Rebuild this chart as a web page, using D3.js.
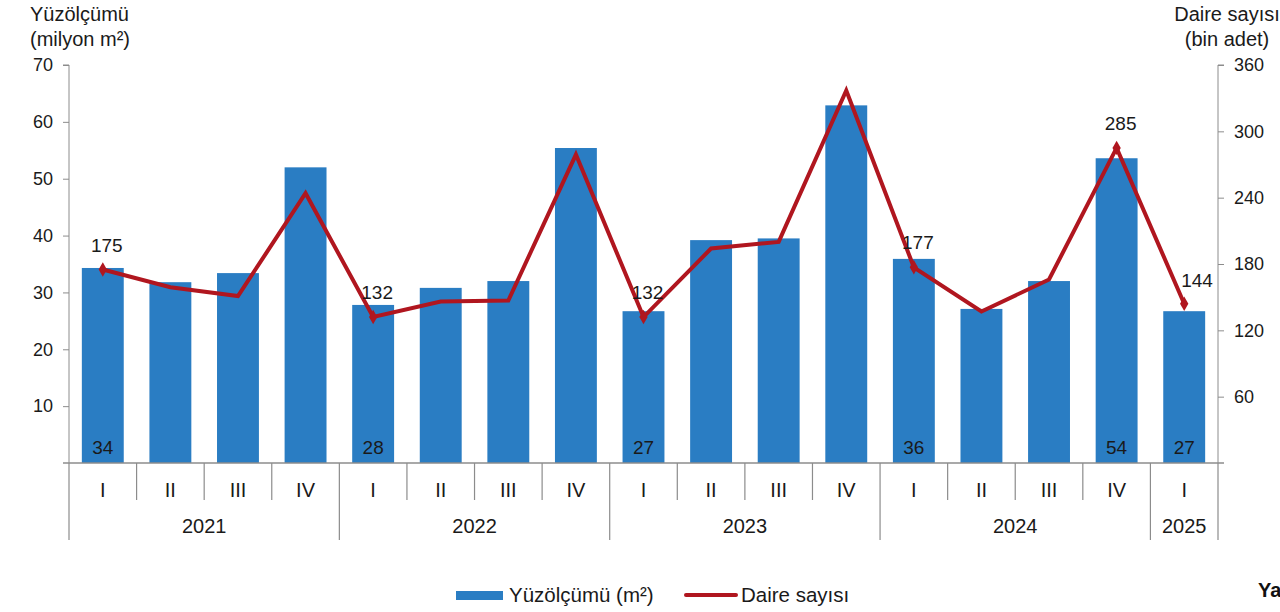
<!DOCTYPE html>
<html><head><meta charset="utf-8">
<script src="https://cdn.jsdelivr.net/npm/d3@7"></script>
<style>body{margin:0;background:#fff}svg{display:block;font-family:"Liberation Sans",Arial,sans-serif}</style>
</head><body><svg id="c" width="1280" height="612"></svg>
<script>
const quarters = ["I","II","III","IV","I","II","III","IV","I","II","III","IV","I","II","III","IV","I"];
const years = ["2021","2021","2021","2021","2022","2022","2022","2022","2023","2023","2023","2023","2024","2024","2024","2024","2025"];
const areaValues = [34.3,31.8,33.4,52.0,27.8,30.8,32.0,55.4,26.7,39.2,39.5,62.9,35.9,27.1,32.0,53.6,26.7];
const areaLabels = ["34","","","","28","","","","27","","","","36","","","54","27"];
const dwellingValues = [175,159,151,244,132,146,147,279,132,194,200,337,177,137,166,285,144];
const dwellingLabels = ["175","","","","132","","","","132","","","","177","","","285","144"];
const leftTicks = [10,20,30,40,50,60,70];
const rightTicks = [60,120,180,240,300,360];

const svg = d3.select("#c");
const x0 = 69, x1 = 1218, yTop = 65, yBot = 463;
const idx = d3.range(quarters.length);
const x = d3.scaleBand().domain(idx).range([x0, x1]).paddingInner(0.38).paddingOuter(0.19);
const xs = d3.scaleBand().domain(idx).range([x0, x1]);
const yL = d3.scaleLinear().domain([0,70]).range([yBot, yTop]);
const yR = d3.scaleLinear().domain([0,360]).range([yBot, yTop]);
const axisCol = "#8c8c8c", textCol = "#1a1a1a";
const blue = "#2a7dc3", red = "#b0161f";
const FF = "Liberation Sans, Arial, sans-serif";

// bars
svg.append("g").selectAll("rect").data(idx).join("rect")
  .attr("x", i => x(i)).attr("width", x.bandwidth())
  .attr("y", i => yL(areaValues[i])).attr("height", i => yBot - yL(areaValues[i]))
  .attr("fill", blue);
svg.append("g").selectAll("text").data(idx.filter(i => areaLabels[i])).join("text")
  .attr("x", i => x(i) + x.bandwidth()/2).attr("y", 454)
  .attr("text-anchor","middle").attr("font-size",19).attr("fill",textCol)
  .text(i => areaLabels[i]);

// left axis
const gl = svg.append("g").attr("transform",`translate(${x0},0)`)
  .call(d3.axisLeft(yL).tickValues(leftTicks).tickSize(6).tickPadding(10).tickFormat(d3.format("d")));
gl.select(".domain").attr("stroke",axisCol).attr("d",`M-6,${yTop}H0V${yBot}`);
gl.selectAll(".tick line").attr("stroke",axisCol);
gl.selectAll(".tick text").attr("font-size",18).attr("fill",textCol).attr("font-family",FF);

// right axis
const gr = svg.append("g").attr("transform",`translate(${x1},0)`)
  .call(d3.axisRight(yR).tickValues(rightTicks).tickSize(6).tickPadding(10).tickFormat(d3.format("d")));
gr.select(".domain").attr("stroke",axisCol).attr("d",`M6,${yTop}H0V${yBot}`);
gr.selectAll(".tick line").attr("stroke",axisCol);
gr.selectAll(".tick text").attr("font-size",18).attr("fill",textCol).attr("font-family",FF);

// x axis baseline
svg.append("line").attr("x1",x0-6).attr("x2",x1+6).attr("y1",yBot).attr("y2",yBot).attr("stroke",axisCol).attr("stroke-width",1.5);
// separators
svg.append("g").selectAll("line").data(d3.range(quarters.length+1)).join("line")
  .attr("x1", i => i < quarters.length ? xs(i) : x1).attr("x2", i => i < quarters.length ? xs(i) : x1)
  .attr("y1", yBot).attr("y2", i => (i===0 || i===quarters.length || years[i]!==years[i-1]) ? 540 : 500)
  .attr("stroke", axisCol).attr("stroke-width",1.2);
svg.append("g").selectAll("text").data(idx).join("text")
  .attr("x", i => xs(i) + xs.bandwidth()/2).attr("y", 497)
  .attr("text-anchor","middle").attr("font-size",20).attr("fill",textCol).text(i => quarters[i]);
const uniqYears = Array.from(new Set(years));
svg.append("g").selectAll("text").data(uniqYears).join("text")
  .attr("x", yv => { const ii = idx.filter(i => years[i]===yv); return (xs(ii[0]) + xs(ii[ii.length-1]) + xs.bandwidth())/2; })
  .attr("y", 533).attr("text-anchor","middle").attr("font-size",20).attr("fill",textCol).text(d => d);

// line
const line = d3.line().x(i => xs(i) + xs.bandwidth()/2).y(i => yR(dwellingValues[i]));
svg.append("path").datum(idx).attr("d", line).attr("fill","none").attr("stroke",red).attr("stroke-width",4).attr("stroke-linejoin","miter");
const lab = idx.filter(i => dwellingLabels[i]);
svg.append("g").selectAll("path").data(lab).join("path")
  .attr("transform", i => `translate(${xs(i)+xs.bandwidth()/2},${yR(dwellingValues[i])})`)
  .attr("d", d3.symbol(d3.symbolDiamond, 60)).attr("fill", red);
svg.append("g").selectAll("text").data(lab).join("text")
  .attr("x", i => xs(i)+xs.bandwidth()/2 + (i===quarters.length-1 ? -3 : 4))
  .attr("y", i => yR(dwellingValues[i]) + (i===quarters.length-1 ? -17 : -18))
  .attr("text-anchor", i => i===quarters.length-1 ? "start" : "middle")
  .attr("font-size",19).attr("fill",textCol).text(i => dwellingLabels[i]);

// axis titles
svg.append("text").attr("x",30).attr("y",21).attr("font-size",20).attr("fill",textCol).text("Yüzölçümü");
svg.append("text").attr("x",30).attr("y",46).attr("font-size",20).attr("fill",textCol).text("(milyon m²)");
svg.append("text").attr("x",1227).attr("y",21).attr("text-anchor","middle").attr("font-size",20).attr("fill",textCol).text("Daire sayısı");
svg.append("text").attr("x",1227).attr("y",46).attr("text-anchor","middle").attr("font-size",20).attr("fill",textCol).text("(bin adet)");

// legend
svg.append("rect").attr("x",456).attr("y",591).attr("width",47).attr("height",9).attr("fill",blue);
svg.append("text").attr("x",509).attr("y",602).attr("font-size",20.5).attr("fill",textCol).text("Yüzölçümü (m²)");
svg.append("line").attr("x1",686).attr("x2",736).attr("y1",595).attr("y2",595).attr("stroke",red).attr("stroke-width",4).attr("stroke-linecap","round");
svg.append("text").attr("x",741).attr("y",602).attr("font-size",20.5).attr("fill",textCol).text("Daire sayısı");
svg.append("text").attr("x",1258).attr("y",597).attr("font-size",20).attr("font-weight","bold").attr("fill","#111").text("Yapı");
</script></body></html>
